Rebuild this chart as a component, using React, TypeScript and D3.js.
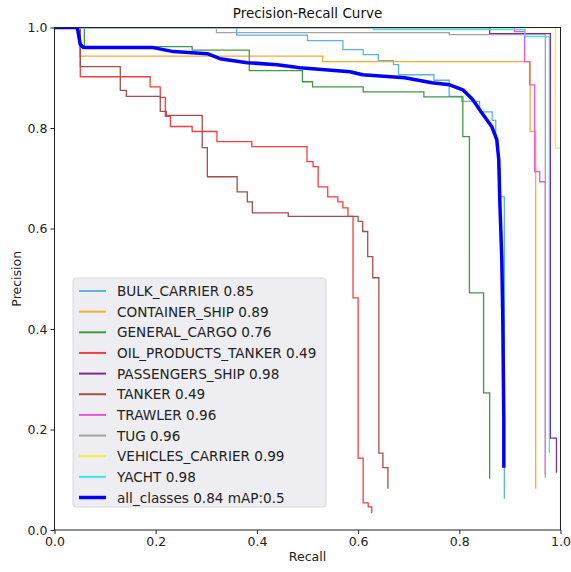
import * as d3 from "d3"
import { useRef, useEffect } from "react"

// per-class PR curves (recall, precision step points)
const bulkRecall = [0, 0.36, 0.5, 0.57, 0.61, 0.64, 0.67, 0.68, 0.75, 0.78, 0.805, 0.84, 0.865, 0.872, 0.876, 0.88, 0.889]
const bulkPrecision = [1, 0.985, 0.974, 0.956, 0.946, 0.934, 0.926, 0.906, 0.895, 0.863, 0.853, 0.832, 0.815, 0.78, 0.72, 0.663, 0.062]

const containerRecall = [0, 0.05, 0.53, 0.94, 0.951]
const containerPrecision = [1, 0.943, 0.932, 0.793, 0.082]

const cargoRecall = [0, 0.059, 0.272, 0.385, 0.49, 0.51, 0.61, 0.73, 0.807, 0.82, 0.848, 0.86]
const cargoPrecision = [1, 0.962, 0.955, 0.914, 0.892, 0.882, 0.872, 0.862, 0.783, 0.472, 0.273, 0.102]

const oilRecall = [0, 0.051, 0.189, 0.209, 0.219, 0.229, 0.272, 0.321, 0.39, 0.499, 0.511, 0.521, 0.54, 0.56, 0.57, 0.58, 0.59, 0.6, 0.61, 0.62, 0.627]
const oilPrecision = [1, 0.902, 0.882, 0.861, 0.823, 0.803, 0.793, 0.773, 0.763, 0.733, 0.723, 0.683, 0.663, 0.653, 0.641, 0.624, 0.462, 0.143, 0.054, 0.046, 0.034]

const passengersRecall = [0, 0.86, 0.98, 0.992]
const passengersPrecision = [1, 0.988, 0.183, 0.114]

const tankerRecall = [0, 0.051, 0.13, 0.142, 0.209, 0.221, 0.292, 0.302, 0.361, 0.381, 0.391, 0.462, 0.6, 0.609, 0.619, 0.629, 0.641, 0.649, 0.659]
const tankerPrecision = [1, 0.922, 0.875, 0.863, 0.833, 0.825, 0.761, 0.703, 0.673, 0.653, 0.631, 0.624, 0.614, 0.594, 0.544, 0.502, 0.153, 0.124, 0.082]

const trawlerRecall = [0, 0.909, 0.929, 0.939, 0.949, 0.959, 0.97]
const trawlerPrecision = [1, 0.992, 0.932, 0.886, 0.713, 0.693, 0.11]

const tugRecall = [0, 0.32, 0.78, 0.97]
const tugPrecision = [1, 0.99, 0.986, 0.104]

const vehiclesRecall = [0, 0.99, 1.0]
const vehiclesPrecision = [1, 0.76, 0]

const yachtRecall = [0, 0.63, 0.93, 0.978]
const yachtPrecision = [1, 0.996, 0.982, 0.153]

const allRecall = [0, 0.045, 0.051, 0.057, 0.195, 0.235, 0.302, 0.327, 0.381, 0.44, 0.485, 0.584, 0.609, 0.692, 0.746, 0.781, 0.807, 0.826, 0.844, 0.864, 0.874, 0.878, 0.88, 0.884, 0.886, 0.888, 0.888]
const allPrecision = [1, 1, 0.966, 0.96, 0.96, 0.952, 0.948, 0.938, 0.93, 0.926, 0.92, 0.912, 0.906, 0.9, 0.89, 0.886, 0.876, 0.857, 0.831, 0.803, 0.777, 0.737, 0.657, 0.538, 0.418, 0.219, 0.124]

const classNames = ["BULK_CARRIER", "CONTAINER_SHIP", "GENERAL_CARGO", "OIL_PRODUCTS_TANKER", "PASSENGERS_SHIP", "TANKER", "TRAWLER", "TUG", "VEHICLES_CARRIER", "YACHT"]
const classAP = [0.85, 0.89, 0.76, 0.49, 0.98, 0.49, 0.96, 0.96, 0.99, 0.98]
const classColors = ["#5ab3e3", "#f6ad2e", "#3f9b3f", "#ff3b3b", "#7d2c91", "#a94c4c", "#ee52dc", "#a3a3a3", "#f4ee3a", "#3ae3f2"]
const classRecalls = [bulkRecall, containerRecall, cargoRecall, oilRecall, passengersRecall, tankerRecall, trawlerRecall, tugRecall, vehiclesRecall, yachtRecall]
const classPrecisions = [bulkPrecision, containerPrecision, cargoPrecision, oilPrecision, passengersPrecision, tankerPrecision, trawlerPrecision, tugPrecision, vehiclesPrecision, yachtPrecision]
const allMAP = 0.84

const tickValues = [0, 0.2, 0.4, 0.6, 0.8, 1.0]

export default function App() {
  const svgRef = useRef<SVGSVGElement>(null)

  useEffect(() => {
    if (!svgRef.current) return
    const width = 571
    const height = 572
    const plot = { left: 54.5, right: 560.5, top: 27.5, bottom: 530 }
    const font = "DejaVu Sans, sans-serif"

    const svg = d3.select(svgRef.current)
    svg.selectAll("*").remove()
    svg.attr("width", width).attr("height", height)

    const x = d3.scaleLinear().domain([0, 1]).range([plot.left, plot.right])
    const y = d3.scaleLinear().domain([0, 1]).range([plot.bottom, plot.top])

    svg.append("rect").attr("width", width).attr("height", height).attr("fill", "#fff")

    svg
      .append("clipPath")
      .attr("id", "plot-clip")
      .append("rect")
      .attr("x", plot.left)
      .attr("y", plot.top)
      .attr("width", plot.right - plot.left)
      .attr("height", plot.bottom - plot.top)

    const lines = svg.append("g").attr("clip-path", "url(#plot-clip)")

    const stepLine = d3
      .line<[number, number]>()
      .x((d) => x(d[0]))
      .y((d) => y(d[1]))
      .curve(d3.curveStepAfter)

    classNames.forEach((_name, i) => {
      const pts = classRecalls[i].map((r, j) => [r, classPrecisions[i][j]] as [number, number])
      lines
        .append("path")
        .attr("d", stepLine(pts))
        .attr("fill", "none")
        .attr("stroke", classColors[i])
        .attr("stroke-width", 1.3)
    })

    const allLine = d3
      .line<[number, number]>()
      .x((d) => x(d[0]))
      .y((d) => y(d[1]))
    lines
      .append("path")
      .attr("d", allLine(allRecall.map((r, j) => [r, allPrecision[j]] as [number, number])))
      .attr("fill", "none")
      .attr("stroke", "#0000ff")
      .attr("stroke-width", 3.5)
      .attr("stroke-linejoin", "round")

    // frame
    svg
      .append("rect")
      .attr("x", plot.left)
      .attr("y", plot.top)
      .attr("width", plot.right - plot.left)
      .attr("height", plot.bottom - plot.top)
      .attr("fill", "none")
      .attr("stroke", "#222")
      .attr("stroke-width", 1)

    svg
      .append("g")
      .attr("transform", `translate(0,${plot.bottom})`)
      .call(d3.axisBottom(x).tickValues(tickValues).tickFormat(d3.format(".1f")).tickSize(4).tickPadding(3))
      .call((g) => g.select(".domain").remove())
      .call((g) => g.selectAll("line").attr("stroke", "#222"))
      .call((g) => g.selectAll("text").style("font-size", "12.5px").style("font-family", font).style("fill", "#222"))

    svg
      .append("g")
      .attr("transform", `translate(${plot.left},0)`)
      .call(d3.axisLeft(y).tickValues(tickValues).tickFormat(d3.format(".1f")).tickSize(4).tickPadding(3))
      .call((g) => g.select(".domain").remove())
      .call((g) => g.selectAll("line").attr("stroke", "#222"))
      .call((g) => g.selectAll("text").style("font-size", "12.5px").style("font-family", font).style("fill", "#222"))

    svg
      .append("text")
      .attr("x", (plot.left + plot.right) / 2)
      .attr("y", 18)
      .attr("text-anchor", "middle")
      .style("font-size", "13.5px")
      .style("font-family", font)
      .style("fill", "#111")
      .text("Precision-Recall Curve")

    svg
      .append("text")
      .attr("x", (plot.left + plot.right) / 2)
      .attr("y", 561)
      .attr("text-anchor", "middle")
      .style("font-size", "12.5px")
      .style("font-family", font)
      .style("fill", "#222")
      .text("Recall")

    svg
      .append("text")
      .attr("transform", `translate(21,${(plot.top + plot.bottom) / 2}) rotate(-90)`)
      .attr("text-anchor", "middle")
      .style("font-size", "12.5px")
      .style("font-family", font)
      .style("fill", "#222")
      .text("Precision")

    // legend
    const legend = svg.append("g").attr("transform", "translate(73,278)")
    legend
      .append("rect")
      .attr("width", 253)
      .attr("height", 229)
      .attr("rx", 3)
      .attr("fill", "#eeeef2")
      .attr("stroke", "#d9d9de")
      .attr("stroke-width", 1)

    const labels = classNames.map((n, i) => `${n} ${classAP[i].toFixed(2)}`).concat(`all_classes ${allMAP.toFixed(2)} mAP:0.5`)
    const colors = classColors.concat("#0000ff")
    labels.forEach((label, i) => {
      const cy = 13 + i * 20.65
      legend
        .append("line")
        .attr("x1", 6)
        .attr("x2", 33)
        .attr("y1", cy)
        .attr("y2", cy)
        .attr("stroke", colors[i])
        .attr("stroke-width", i === labels.length - 1 ? 3.5 : 2)
      legend
        .append("text")
        .attr("x", 44)
        .attr("y", cy + 5)
        .style("font-size", "13.6px")
        .style("font-family", font)
        .style("fill", "#222")
        .text(label)
    })
  }, [])

  return (
    <div style={{ position: "absolute", left: 0, top: 0 }}>
      <svg ref={svgRef}></svg>
    </div>
  )
}
